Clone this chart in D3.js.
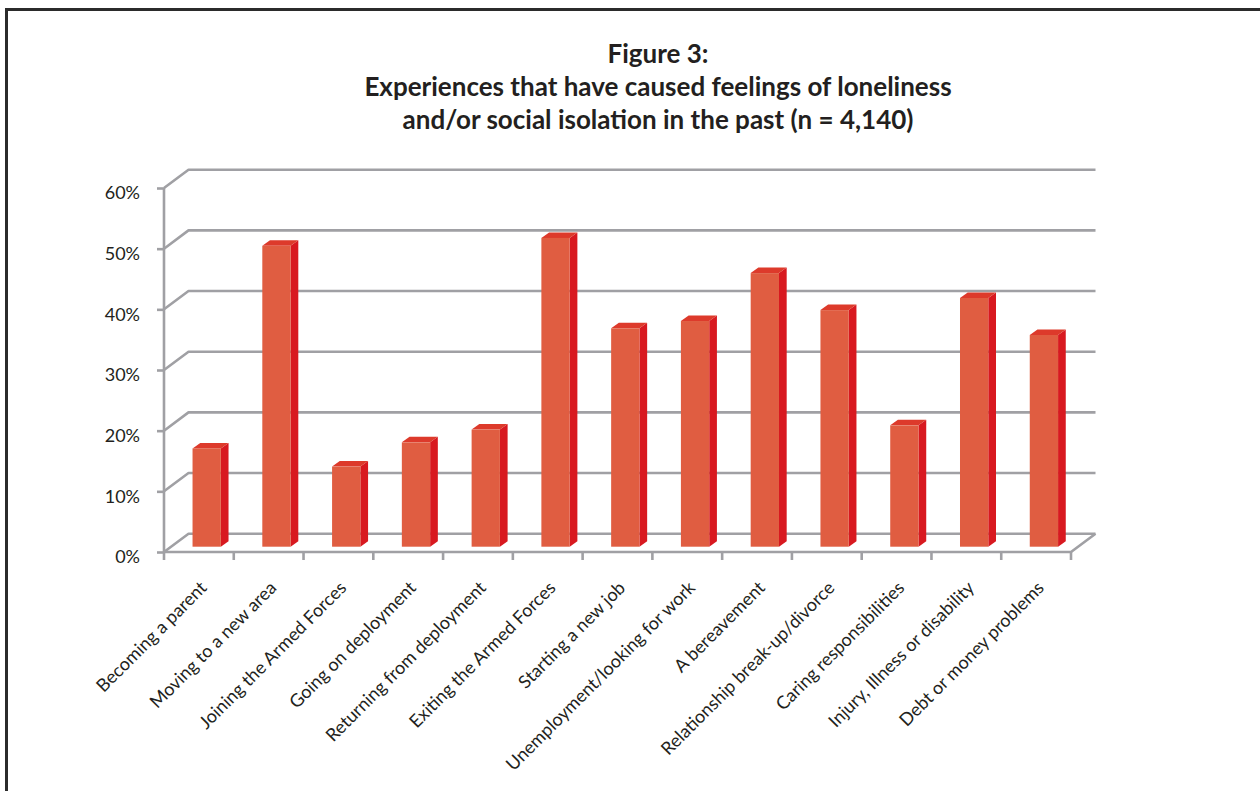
<!DOCTYPE html>
<html>
<head>
<meta charset="utf-8">
<script src="https://cdn.jsdelivr.net/npm/d3@7"></script>
<style>
  html, body { margin: 0; padding: 0; background: #fff; }
  svg { display: block; }
  text { font-family: Lato, "Open Sans", sans-serif; fill: #231f20; }
</style>
</head>
<body>
<svg id="chart" width="1260" height="791"></svg>
<script>
// Experiences that have caused loneliness / social isolation (share of respondents, %)
const categories = [
  "Becoming a parent",
  "Moving to a new area",
  "Joining the Armed Forces",
  "Going on deployment",
  "Returning from deployment",
  "Exiting the Armed Forces",
  "Starting a new job",
  "Unemployment/looking for work",
  "A bereavement",
  "Relationship break-up/divorce",
  "Caring responsibilities",
  "Injury, Illness or disability",
  "Debt or money problems"
];
const values = [16.2, 49.6, 13.2, 17.2, 19.3, 50.9, 36.0, 37.2, 45.1, 39.0, 20.0, 41.0, 34.9];
const yTicks = [0, 10, 20, 30, 40, 50, 60];
const yTickLabels = ["0%", "10%", "20%", "30%", "40%", "50%", "60%"];
const titleLines = [
  "Figure 3:",
  "Experiences that have caused feelings of loneliness",
  "and/or social isolation in the past (n = 4,140)"
];

const svg = d3.select("#chart");
const W = 1260, H = 791;

svg.append("rect").attr("width", W).attr("height", H).attr("fill", "#fff");

// page frame (top and left rules)
svg.append("path")
  .attr("d", `M6.5,${H} V9.5 H${W}`)
  .attr("fill", "none")
  .attr("stroke", "#2b2b2b")
  .attr("stroke-width", 3);

// title
const title = svg.append("text")
  .attr("text-anchor", "middle")
  .attr("font-weight", "bold")
  .attr("font-size", 26);
titleLines.forEach((t, i) => {
  title.append("tspan")
    .attr("x", 658)
    .attr("y", 63 + i * 33)
    .text(t);
});

// scales
const x = d3.scaleBand().domain(categories).range([164, 1071]).padding(0);
const y = d3.scaleLinear().domain([0, 60]).range([552, 188]);
const step = x.step();

// pseudo-3D offsets: back wall, bar front plane, bar depth
const wall = { dx: 24.5, dy: -18.3 };
const barFront = { dx: 7.8, dy: -5.3 };
const barDepth = { dx: 7.7, dy: -5.5 };
const barW = 28.3;

const gridColor = "#a0a0a4";
const grid = svg.append("g")
  .attr("fill", "none")
  .attr("stroke", gridColor)
  .attr("stroke-width", 2.6)
  .attr("stroke-linejoin", "round");

const x0 = x.range()[0], x1 = x.range()[1];

// wall gridlines with their slanted left edges
yTicks.forEach(t => {
  grid.append("path")
    .attr("d", `M${x0},${y(t)} L${x0 + wall.dx},${y(t) + wall.dy} H${x1 + wall.dx}`);
});

// floor front edge and right slant
grid.append("path")
  .attr("d", `M${x0},${y(0)} H${x1} L${x1 + wall.dx},${y(0) + wall.dy}`);

// category tick marks below the floor
const bounds = categories.map(c => x(c)).concat([x1]);
bounds.forEach(b => {
  grid.append("path").attr("d", `M${b},${y(0)} V${y(0) + 8}`);
});

// value axis
const yAxis = d3.axisLeft(y)
  .tickValues(yTicks)
  .tickFormat((d, i) => yTickLabels[i])
  .tickSize(7)
  .tickPadding(17);

const yg = svg.append("g")
  .attr("transform", `translate(${x0},0)`)
  .call(yAxis);
yg.select(".domain")
  .attr("stroke", gridColor)
  .attr("stroke-width", 2.6)
  .attr("d", `M0,${y(60)} V${y(0)}`);
yg.selectAll(".tick line").attr("stroke", gridColor).attr("stroke-width", 2.6);
yg.selectAll(".tick text")
  .attr("font-size", 18)
  .attr("font-family", "Lato, sans-serif")
  .attr("fill", "#231f20")
  .attr("dy", "0.6em");

// bars
const bars = svg.append("g");
categories.forEach((c, i) => {
  const v = values[i];
  const xl = x(c) + (step - barW) / 2 + barFront.dx;
  const xr = xl + barW;
  const yb = y(0) + barFront.dy;
  const yt = y(v) + barFront.dy;
  const g = bars.append("g");
  // side
  g.append("path")
    .attr("d", `M${xr},${yt} L${xr + barDepth.dx},${yt + barDepth.dy} L${xr + barDepth.dx},${yb + barDepth.dy} L${xr},${yb} Z`)
    .attr("fill", "#d81920");
  // top
  g.append("path")
    .attr("d", `M${xl},${yt} L${xl + barDepth.dx},${yt + barDepth.dy} L${xr + barDepth.dx},${yt + barDepth.dy} L${xr},${yt} Z`)
    .attr("fill", "#dd3a2b");
  // front
  g.append("rect")
    .attr("x", xl)
    .attr("y", yt)
    .attr("width", barW)
    .attr("height", yb - yt)
    .attr("fill", "#e05d41");
});

// category labels
svg.append("g")
  .selectAll("text")
  .data(categories)
  .join("text")
  .attr("text-anchor", "end")
  .attr("font-size", 18)
  .attr("transform", d => `translate(${x(d) + step / 2 + 9},589) rotate(-45)`)
  .text(d => d);
</script>
</body>
</html>
